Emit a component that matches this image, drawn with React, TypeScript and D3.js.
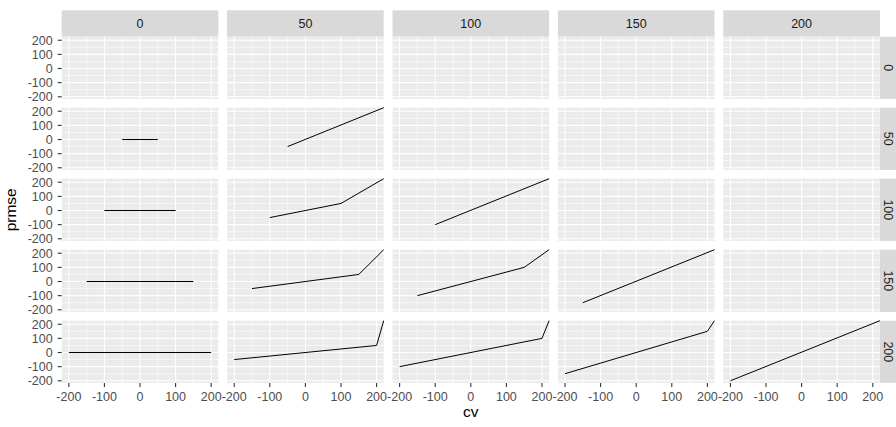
import React from "react";
import * as d3 from "d3";

// facet levels (columns across the top, rows down the right side)
const colLevels = [0, 50, 100, 150, 200];
const rowLevels = [0, 50, 100, 150, 200];

const xTicks = [-200, -100, 0, 100, 200];
const yTicks = [-200, -100, 0, 100, 200];
const xMinor = [-150, -50, 50, 150];
const yMinor = [-150, -50, 50, 150];

// one line per panel (last points sit on the clipped corner)
const curves = [
  { row: 50, col: 0, cv: [-50, 50], prmse: [0, 0] },
  { row: 100, col: 0, cv: [-100, 100], prmse: [0, 0] },
  { row: 150, col: 0, cv: [-150, 150], prmse: [0, 0] },
  { row: 200, col: 0, cv: [-200, 200], prmse: [0, 0] },
  { row: 50, col: 50, cv: [-50, 220], prmse: [-50, 225] },
  { row: 100, col: 50, cv: [-100, 100, 220], prmse: [-50, 50, 225] },
  { row: 150, col: 50, cv: [-150, 150, 220], prmse: [-50, 50, 225] },
  { row: 200, col: 50, cv: [-200, 200, 220], prmse: [-50, 50, 225] },
  { row: 100, col: 100, cv: [-100, 220], prmse: [-100, 225] },
  { row: 150, col: 100, cv: [-150, 150, 220], prmse: [-100, 100, 225] },
  { row: 200, col: 100, cv: [-200, 200, 220], prmse: [-100, 100, 225] },
  { row: 150, col: 150, cv: [-150, 220], prmse: [-150, 225] },
  { row: 200, col: 150, cv: [-200, 200, 220], prmse: [-150, 150, 225] },
  { row: 200, col: 200, cv: [-200, 220], prmse: [-200, 225] },
];

const W = 896,
  H = 427;
const left = 61.7,
  top = 36.7,
  panelW = 156.6,
  panelH = 62.2,
  gap = 8.8,
  stripH = 26.4;

const font = "'Liberation Sans', Arial, sans-serif";

const App = () => {
  const x = d3.scaleLinear().domain([-220, 220]).range([0, panelW]);
  const y = d3.scaleLinear().domain([-215, 225]).range([panelH, 0]);

  const line = d3
    .line<[number, number]>()
    .x((d) => x(d[0]))
    .y((d) => y(d[1]));

  const colX = (i) => left + i * (panelW + gap);
  const rowY = (j) => top + j * (panelH + gap);

  return (
    <svg
      width={W}
      height={H}
      style={{ position: "absolute", left: 0, top: 0, background: "white" }}
      fontFamily={font}
    >
      {/* top strips */}
      {colLevels.map((c, i) => (
        <g key={"cs" + c} transform={`translate(${colX(i)},${top - stripH})`}>
          <rect width={panelW} height={stripH} fill="#D9D9D9" />
          <text x={panelW / 2} y={stripH / 2 + 4.6} textAnchor="middle" fontSize={12.5} fill="#1A1A1A">
            {c}
          </text>
        </g>
      ))}
      {/* right strips */}
      {rowLevels.map((r, j) => (
        <g key={"rs" + r} transform={`translate(${left + 5 * panelW + 4 * gap},${rowY(j)})`}>
          <rect width={stripH} height={panelH} fill="#D9D9D9" />
          <text
            transform={`translate(${8.5 - 4.4},${panelH / 2}) rotate(90)`}
            textAnchor="middle"
            fontSize={12.5}
            fill="#1A1A1A"
          >
            {r}
          </text>
        </g>
      ))}

      {rowLevels.map((r, j) =>
        colLevels.map((c, i) => {
          const pc = curves.filter((d) => d.row === r && d.col === c);
          return (
            <g key={r + "-" + c} transform={`translate(${colX(i)},${rowY(j)})`}>
              <rect width={panelW} height={panelH} fill="#EBEBEB" />
              {xMinor.map((t) => (
                <line key={"xm" + t} x1={x(t)} x2={x(t)} y1={0} y2={panelH} stroke="white" strokeWidth={0.55} />
              ))}
              {yMinor.map((t) => (
                <line key={"ym" + t} x1={0} x2={panelW} y1={y(t)} y2={y(t)} stroke="white" strokeWidth={0.55} />
              ))}
              {xTicks.map((t) => (
                <line key={"xg" + t} x1={x(t)} x2={x(t)} y1={0} y2={panelH} stroke="white" strokeWidth={1.1} />
              ))}
              {yTicks.map((t) => (
                <line key={"yg" + t} x1={0} x2={panelW} y1={y(t)} y2={y(t)} stroke="white" strokeWidth={1.1} />
              ))}
              {pc.map((d, k) => (
                <path
                  key={k}
                  d={line(d.cv.map((v, n) => [v, d.prmse[n]] as [number, number])) || ""}
                  fill="none"
                  stroke="black"
                  strokeWidth={1}
                />
              ))}
              {/* left axis on first column */}
              {i === 0 &&
                yTicks.map((t) => (
                  <g key={"ya" + t}>
                    <line x1={-4} x2={0} y1={y(t)} y2={y(t)} stroke="#333333" strokeWidth={1.1} />
                    <text x={-9} y={y(t) + 4.4} textAnchor="end" fontSize={12.5} fill="#4D4D4D">
                      {t}
                    </text>
                  </g>
                ))}
              {/* bottom axis on last row */}
              {j === rowLevels.length - 1 &&
                xTicks.map((t) => (
                  <g key={"xa" + t}>
                    <line x1={x(t)} x2={x(t)} y1={panelH} y2={panelH + 4} stroke="#333333" strokeWidth={1.1} />
                    <text x={x(t)} y={panelH + 18.3} textAnchor="middle" fontSize={12.5} fill="#4D4D4D">
                      {t}
                    </text>
                  </g>
                ))}
            </g>
          );
        })
      )}

      {/* axis titles */}
      <text x={left + (5 * panelW + 4 * gap) / 2} y={416.5} textAnchor="middle" fontSize={15.5} fill="black">
        cv
      </text>
      <text
        transform={`translate(16,${top + (5 * panelH + 4 * gap) / 2}) rotate(-90)`}
        textAnchor="middle"
        fontSize={15.5}
        fill="black"
      >
        prmse
      </text>
    </svg>
  );
};

export default App;
